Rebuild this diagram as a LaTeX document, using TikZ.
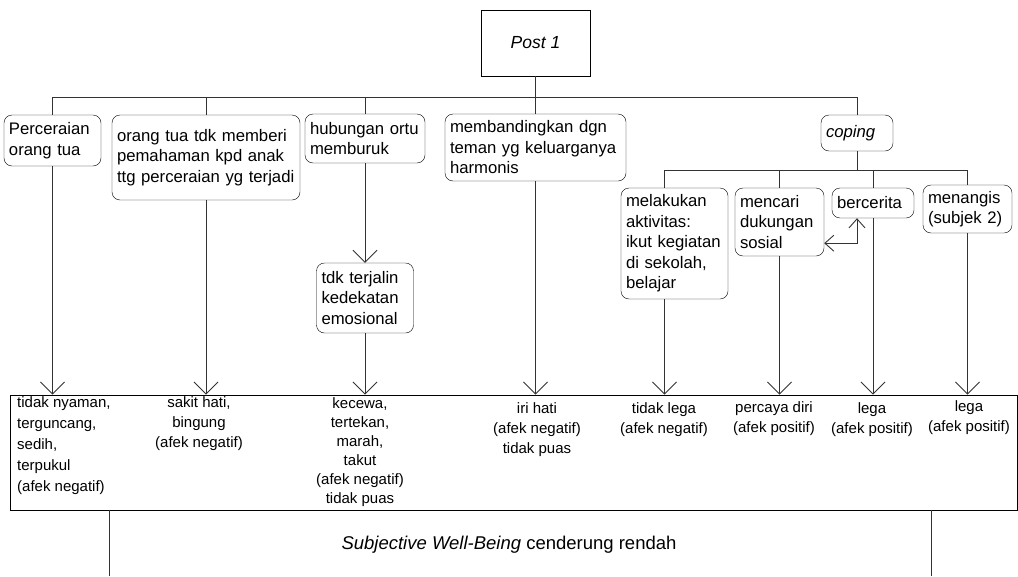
\documentclass[tikz,border=0pt]{standalone}
\usepackage{fontspec}
\setmainfont{Liberation Sans}
\usetikzlibrary{arrows.meta, positioning, calc}

\begin{document}
\begin{tikzpicture}[x=1pt, y=-1pt,
  >={Straight Barb[length=12pt, width=24pt]},
  box/.style={draw, rounded corners=8pt, align=left, inner xsep=5pt, inner ysep=3pt, font=\fontsize{16.7}{20.5}\selectfont},
  res/.style={inner sep=0pt, anchor=north, align=center, font=\fontsize{15}{20}\selectfont},
  link/.style={draw=black!80, line width=0.9pt},
  arr/.style={link, ->}]
  \useasboundingbox (0,0) rectangle (1018,576);

  % Top
  \node[draw, line width=0.9pt, minimum width=109pt, minimum height=66pt, font=\fontsize{17.5}{20}\selectfont\itshape] (post) at (535.5,43) {Post 1};

  % First level
  \node[box, text width=87pt, minimum height=51pt] (perc) at (52.5,140.5) {Perceraian\\orang tua};
  \node[box, text width=178pt, minimum height=85pt] (beri) at (206,157.5) {orang tua tdk memberi\\pemahaman kpd anak\\ttg perceraian yg terjadi};
  \node[box, text width=110pt, minimum height=49pt] (hub) at (365,138.5) {hubungan ortu\\memburuk};
  \node[box, text width=171pt, minimum height=67pt] (band) at (535.5,147.5) {membandingkan dgn\\teman yg keluarganya\\harmonis};
  \node[box, text width=62pt, minimum height=36pt, font=\fontsize{16.7}{20.5}\selectfont\itshape] (coping) at (857,133) {coping};

  % Coping
  \node[box, text width=97pt, minimum height=111pt] (lakukan) at (674.5,243.5) {melakukan\\aktivitas:\\ikut kegiatan\\di sekolah,\\belajar};
  \node[box, text width=79pt, minimum height=68pt] (cari) at (779.5,222) {mencari\\dukungan\\sosial};
  \node[box, text width=72pt, minimum height=30pt] (cerita) at (873,203) {bercerita};
  \node[box, text width=79pt, minimum height=48pt] (nangis) at (967.5,209) {menangis\\(subjek 2)};

  \node[box, text width=87pt, minimum height=70pt] (jalin) at (365,298) {tdk terjalin\\kedekatan\\emosional};

  % Results
  \node[draw, line width=0.9pt, minimum width=1007pt, minimum height=115pt, inner sep=0pt] (hasil) at (513.5,452.5) {};
  \node[res, anchor=north west, align=left, font=\fontsize{15}{21}\selectfont] (r1) at (17,396) {tidak nyaman,\\terguncang,\\sedih,\\terpukul\\(afek negatif)};
  \node[res] (r2) at (199,396) {sakit hati,\\bingung\\(afek negatif)};
  \node[res, font=\fontsize{15}{19}\selectfont] (r3) at (360,397) {kecewa,\\tertekan,\\marah,\\takut\\(afek negatif)\\tidak puas};
  \node[res] (r4) at (537,402) {iri hati\\(afek negatif)\\tidak puas};
  \node[res] (r5) at (664,402) {tidak lega\\(afek negatif)};
  \node[res] (r6) at (774,401) {percaya diri\\(afek positif)};
  \node[res] (r7) at (872,402) {lega\\(afek positif)};
  \node[res] (r8) at (969,400) {lega\\(afek positif)};

  \node[font=\fontsize{18.5}{20}\selectfont] (swb) at (509,545) {\textit{Subjective Well-Being} cenderung rendah};

  % Connectors
  \draw[link] (post.south) -- ++(0,21) coordinate (bus);
  \foreach \n in {perc,beri,hub,band,coping}
    \draw[link] (bus) -| (\n.north);
  \draw[link] (coping.south) -- ++(0,19) coordinate (bus2);
  \draw[link] (bus2) -| ([xshift=-10pt]lakukan.north);
  \foreach \n in {cari,cerita,nangis}
    \draw[link] (bus2) -| (\n.north);

  \draw[arr] (hub.south) -- (hub.south |- jalin.north);
  \foreach \n in {perc,beri,jalin,band,cari,cerita,nangis}
    \draw[arr] (\n.south) -- (\n.south |- hasil.north);
  \draw[arr] ([xshift=-10pt]lakukan.south) -- ([xshift=-10pt]lakukan.south |- hasil.north);
  \draw[link, {Straight Barb[length=9pt, width=16pt]}-{Straight Barb[length=9pt, width=16pt]}] ([xshift=-16pt]cerita.south) |- ([yshift=13pt]cari.south east);

  % Legs
  \coordinate (legL) at (109,576);
  \coordinate (legR) at (931,576);
  \draw[link] (legL |- hasil.south) -- (legL);
  \draw[link] (legR |- hasil.south) -- (legR);
\end{tikzpicture}
\end{document}
